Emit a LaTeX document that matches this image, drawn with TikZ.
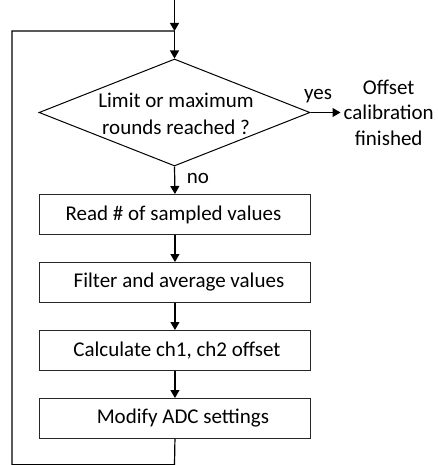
\documentclass[tikz,border=0pt]{standalone}
\usepackage{fontspec}
\setmainfont{Carlito}
\usetikzlibrary{shapes.geometric,arrows.meta}
\begin{document}
\begin{tikzpicture}[x=1pt,y=-1pt,
  font=\fontsize{21}{26}\selectfont,
  line/.style={line width=1.2pt},
  flow/.style={line, -{Triangle[width=9pt,length=8pt]}},
  procbox/.style={draw=black!85, line width=0.9pt, minimum width=271pt,
                  minimum height=40pt, inner sep=0pt, anchor=north west},
  decision/.style={diamond, draw, line width=1pt, inner sep=0pt, aspect=2.53,
                   minimum width=271pt, minimum height=107pt},
  txt/.style={inner sep=0pt, align=center}]
\useasboundingbox (0,0) rectangle (437,465);

% entry point and loop junction
\coordinate (entry) at (174.5,0);
\coordinate (join) at (174.5,31);

% decision
\node[decision] (dec) at (174.5,112.5) {};
\node[txt, font=\fontsize{21}{27.5}\selectfont] (dectext) at (176,114) {Limit or maximum\\rounds reached ?};

% process steps
\node[procbox] (read)   at (39,194) {\hspace{-3pt}Read \# of sampled values};
\node[procbox] (filter) at (39,262) {\hspace{8pt}Filter and average values};
\node[procbox] (calc)   at (39,330) {\hspace{4pt}Calculate ch1, ch2 offset};
\node[procbox] (modify) at (39,398) {\hspace{16pt}Modify ADC settings};

% exit
\node[txt, font=\fontsize{21}{25.5}\selectfont, anchor=west] (done) at (343.5,112.5) {Offset\\calibration\\finished};

% branch labels
\node[txt] (yes) at (318,96) {yes};
\node[txt] (no) at (198,178) {no};

% loop-back corners
\coordinate (bottom) at (174.5,464.6);
\coordinate (corner1) at (12,464.6);
\coordinate (corner2) at (12,31);

% connectors
\draw[flow] (entry) -- (join);
\draw[flow] (join) -- (dec.north);
\draw[flow, shorten >=3pt] (dec.east) -- (done.west);
\draw[flow] (dec.south) -- (read.north);
\draw[flow] (read.south) -- (filter.north);
\draw[flow] (filter.south) -- (calc.north);
\draw[flow] (calc.south) -- (modify.north);
\draw[line] (modify.south) -- (bottom) -- (corner1) -- (corner2) -- (join);
\end{tikzpicture}
\end{document}
